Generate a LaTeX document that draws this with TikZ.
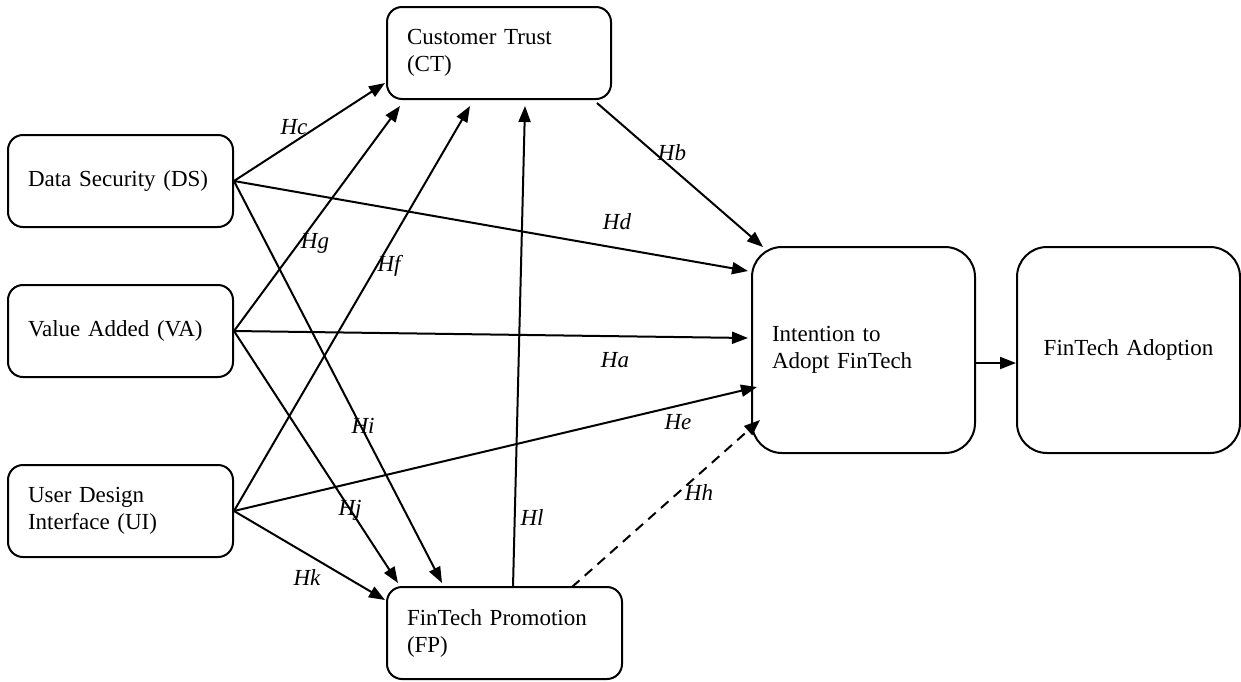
\documentclass[tikz,border=0pt]{standalone}
\usepackage{fontspec}
\setmainfont{Liberation Serif}
\usetikzlibrary{arrows.meta}
\begin{document}
\begin{tikzpicture}[x=1pt,y=-1pt,
  every node/.style={font=\fontsize{23}{27}\selectfont},
  box/.style={draw, line width=2pt, rounded corners=15pt, align=left,
    inner xsep=20pt, inner ysep=0pt, text width=#1-40pt, minimum width=#1},
  smallbox/.style={box=#1, minimum height=92pt},
  bigbox/.style={box=223pt, minimum height=206pt, rounded corners=30pt},
  link/.style={line width=2pt, -{Triangle[length=16pt,width=12pt]}},
  hyp/.style={font=\fontsize{23}{27}\selectfont\itshape, inner sep=0pt}]
\useasboundingbox (0,0) rectangle (1241,681);

% constructs
\node[smallbox=224pt] (CT) at (499,53) {Customer Trust\\(CT)};
\node[smallbox=225pt] (DS) at (120.5,181) {Data Security (DS)};
\node[smallbox=225pt] (VA) at (120.5,331) {Value Added (VA)};
\node[smallbox=225pt] (UI) at (120.5,511) {User Design\\Interface (UI)};
\node[smallbox=235pt] (FP) at (504.5,633) {FinTech Promotion\\(FP)};
\node[bigbox] (IA) at (863.5,350) {Intention to\\Adopt FinTech};
\node[bigbox, align=center] (FA) at (1128.5,350) {FinTech Adoption};

% connector ends
\coordinate (ctC) at (385,83);
\coordinate (ctG) at (400,106);
\coordinate (ctF) at (470,106);
\coordinate (ctL) at (525,106);
\coordinate (ctB) at (597,103);
\coordinate (iaB) at (763,247);
\coordinate (iaD) at (748,271);
\coordinate (iaA) at (748,338);
\coordinate (iaE) at (757,387);
\coordinate (iaH) at (760,420);
\coordinate (fpI) at (442,583);
\coordinate (fpJ) at (398,583);
\coordinate (fpK) at (385,600);
\coordinate (fpL) at (513,587);
\coordinate (fpH) at (572,587);

% paths
\draw[link] (DS.east) -- (ctC);
\draw[link] (DS.east) -- (iaD);
\draw[link] (DS.east) -- (fpI);
\draw[link] (VA.east) -- (ctG);
\draw[link] (VA.east) -- (iaA);
\draw[link] (VA.east) -- (fpJ);
\draw[link] (UI.east) -- (ctF);
\draw[link] (UI.east) -- (iaE);
\draw[link] (UI.east) -- (fpK);
\draw[link] (fpL) -- (ctL);
\draw[link, dash pattern=on 10pt off 7pt] (fpH) -- (iaH);
\draw[link] (ctB) -- (iaB);
\draw[link] ([yshift=-13pt]IA.east) -- ([yshift=-13pt]FA.west);

% hypothesis labels
\node[hyp] (Hc) at (294,127) {Hc};
\node[hyp] (Hb) at (672,153) {Hb};
\node[hyp] (Hd) at (617,222) {Hd};
\node[hyp] (Hg) at (315,243) {Hg};
\node[hyp] (Hf) at (389,266) {Hf};
\node[hyp] (Ha) at (615,360) {Ha};
\node[hyp] (He) at (678,422) {He};
\node[hyp] (Hi) at (363,426) {Hi};
\node[hyp] (Hh) at (699,493) {Hh};
\node[hyp] (Hj) at (350,510) {Hj};
\node[hyp] (Hl) at (532,518) {Hl};
\node[hyp] (Hk) at (307,578) {Hk};
\end{tikzpicture}
\end{document}
